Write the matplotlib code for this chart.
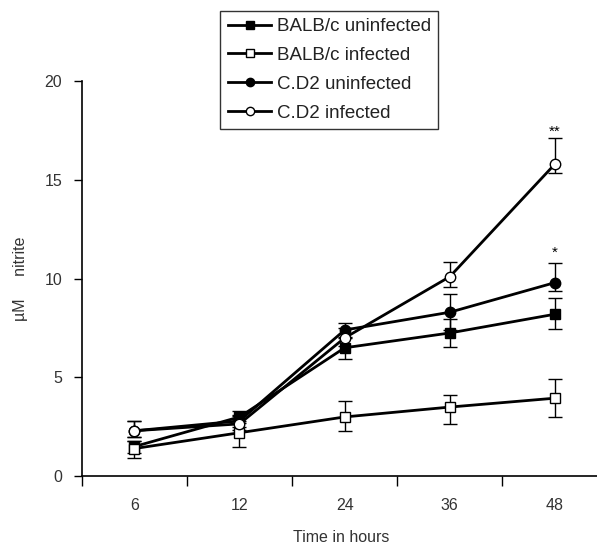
import numpy as np
import matplotlib
matplotlib.use("Agg")
import matplotlib.pyplot as plt

plt.rcParams['font.family'] = ['Liberation Sans', 'DejaVu Sans']

# data
hours = ['6', '12', '24', '36', '48']

balb_uninf = [1.5, 3.0, 6.5, 7.25, 8.2]
balb_uninf_lo = [0.3, 0.3, 0.55, 0.7, 0.75]
balb_uninf_hi = [0.3, 0.3, 0.5, 0.7, 0.8]

balb_inf = [1.4, 2.2, 3.0, 3.5, 3.95]
balb_inf_lo = [0.5, 0.7, 0.7, 0.85, 0.95]
balb_inf_hi = [0.4, 0.6, 0.8, 0.6, 0.95]

cd2_uninf = [2.3, 2.8, 7.4, 8.3, 9.8]
cd2_uninf_lo = [0.3, 0.3, 0.35, 0.9, 0.4]
cd2_uninf_hi = [0.5, 0.3, 0.35, 0.9, 1.0]

cd2_inf = [2.3, 2.65, 7.0, 10.1, 15.8]
cd2_inf_lo = [0.3, 0.3, 0.4, 0.5, 0.45]
cd2_inf_hi = [0.5, 0.4, 0.5, 0.75, 1.3]

fig = plt.figure(figsize=(5.97, 5.48), dpi=100)
ax = fig.add_axes([0.137, 0.131, 0.87, 0.721])

x = np.arange(len(hours))
series = [
    (balb_uninf, balb_uninf_lo, balb_uninf_hi, 's', 'black', 'BALB/c uninfected'),
    (balb_inf, balb_inf_lo, balb_inf_hi, 's', 'white', 'BALB/c infected'),
    (cd2_uninf, cd2_uninf_lo, cd2_uninf_hi, 'o', 'black', 'C.D2 uninfected'),
    (cd2_inf, cd2_inf_lo, cd2_inf_hi, 'o', 'white', 'C.D2 infected'),
]
for vals, lo, hi, mk, fc, lab in series:
    ax.errorbar(x, vals, yerr=[lo, hi], fmt='none', ecolor='black',
                elinewidth=1.0, capsize=5, capthick=1.0, zorder=2)
    ax.plot(x, vals, color='black', lw=2, marker=mk, markersize=7.5,
            markerfacecolor=fc, markeredgecolor='black', markeredgewidth=1,
            label=lab, zorder=3)

ax.text(4, 17.1, '**', ha='center', va='bottom', fontsize=11)
ax.text(4, 10.95, '*', ha='center', va='bottom', fontsize=11)

ax.set_xlim(-0.5, 4.44)
ax.set_ylim(0, 20)
ax.set_yticks([0, 5, 10, 15, 20])
ax.set_xticks(np.arange(-0.5, 4.5, 1.0))
ax.set_xticklabels([])
ax.set_xticks(x, minor=True)
ax.set_xticklabels(hours, minor=True)
ax.tick_params(axis='x', which='minor', length=0, pad=16, labelsize=11.5, labelcolor='#333333')
ax.tick_params(axis='x', which='major', length=7, width=1)
ax.tick_params(axis='y', length=6, width=1, labelsize=11.5, labelcolor='#333333', pad=8)

for s in ['top', 'right']:
    ax.spines[s].set_visible(False)
for s in ['left', 'bottom']:
    ax.spines[s].set_linewidth(1.2)

ax.set_xlabel('Time in hours', fontsize=11.5, color='#333333', labelpad=12)
ax.set_ylabel('\u00b5M     nitrite', fontsize=11.5, color='#333333', labelpad=12)

leg = ax.legend(loc='upper left', bbox_to_anchor=(0.249, 1.202), frameon=True,
                fancybox=False, edgecolor='black', fontsize=13.5,
                handlelength=2.3, handletextpad=0.3, labelspacing=0.62,
                borderpad=0.4, markerscale=0.8)
leg.get_frame().set_linewidth(1.0)
for t in leg.get_texts():
    t.set_color('#222222')

fig.savefig('out.png', dpi=100)
